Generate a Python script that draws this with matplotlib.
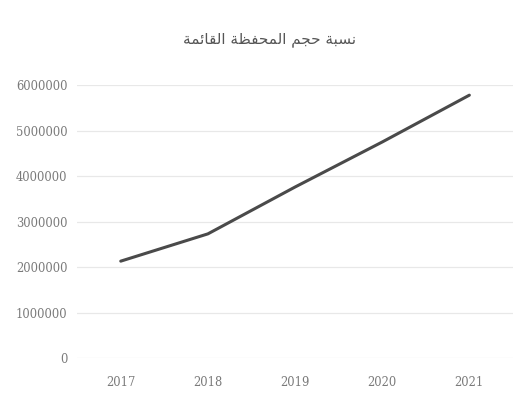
import matplotlib
matplotlib.use('Agg')
import matplotlib.pyplot as plt
import numpy as np

years = ['2017', '2018', '2019', '2020', '2021']
portfolio = [2130000, 2730000, 3760000, 4750000, 5780000]
yticks = [0, 1000000, 2000000, 3000000, 4000000, 5000000, 6000000]

# title "نسبة حجم المحفظة القائمة" in arabic presentation forms (no shaping in mpl)
words = [
    '\uFEE7\uFEB4\uFE92\uFE94',
    '\uFEA3\uFEA0\uFEE2',
    '\uFE8D\uFEDF\uFEE4\uFEA4\uFED4\uFEC8\uFE94',
    '\uFE8D\uFEDF\uFED8\uFE8E\uFE8B\uFEE4\uFE94',
]
title = ' '.join(words)[::-1]

fig = plt.figure(figsize=(5.25, 3.98), dpi=100)
ax = fig.add_axes([0.147, 0.1005, 0.83, 0.6855])

x = np.arange(len(years))
ax.plot(x, portfolio, color='#4a4a4a', linewidth=2.2, solid_capstyle='round')

ax.set_xlim(-0.5, len(years) - 0.5)
ax.set_ylim(0, 6000000)
ax.set_xticks(x)
ax.set_xticklabels(years)
ax.set_yticks(yticks)
ax.set_yticklabels([str(v) for v in yticks])

ax.grid(axis='y', color='#e8e8e8', linewidth=0.9)
ax.set_axisbelow(True)
for s in ax.spines.values():
    s.set_visible(False)
ax.tick_params(length=0, colors='#7a7a7a', labelsize=8.3)
ax.tick_params(axis='y', pad=7)
ax.tick_params(axis='x', pad=13)
for lab in ax.get_xticklabels() + ax.get_yticklabels():
    lab.set_fontfamily('DejaVu Serif')

fig.text(0.514, 0.9, title, ha='center', va='center', fontsize=11,
         color='#555555', family=['DejaVu Sans'])

fig.savefig('out.png', dpi=100, facecolor='white')
